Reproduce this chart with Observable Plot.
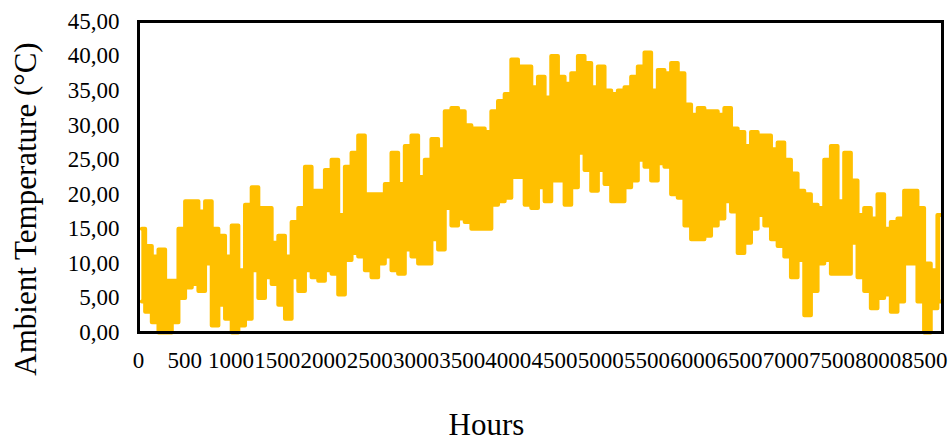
<!DOCTYPE html>
<html><head><meta charset="utf-8">
<script src="https://cdn.jsdelivr.net/npm/d3@7"></script>
<script src="https://cdn.jsdelivr.net/npm/@observablehq/plot@0.6"></script>
<style>body{margin:0;background:#fff;} svg{font-family:"Liberation Serif","Times New Roman",serif;}</style>
</head><body><div id="chart"></div>
<script>
// Ambient temperature, hourly year read as 72-hour bins: max and min of each bin (°C)
const binHours = 72;
const tempMax = [15,12.5,11,12,7.5,7.5,15,19,19,17.5,19,15,14,11,15.5,9,18.5,21,18,18,13,14,11,16,18,
  24,20.5,20.5,23.5,25,17,24,26,28.5,20,20,20,21.5,26,21.5,27,28.5,22.5,25,28,26.5,32,32.5,32,
  30,29.5,29.5,29,32,33.5,34.5,39.5,38.5,38.5,35.5,37,34,40,37,36,37.5,40,39,35.5,38.5,35,34.5,35,
  35.5,37,38.5,40.5,35,38,37.5,39,37.5,33,31.5,32.5,32,32,31.5,32.5,29.5,29,27,29,28.5,28.5,26.5,27.5,
  25,23,20.5,20,18.5,18,25,27,19,26,22,17,18,16.5,20,15,16,16.5,20.5,20.5,18,10,9,17];
const tempMin = [4.5,3,1.5,0,0,1.5,5,6.5,7,6,10,1,4,2,0,1,2,9,5,8,7,4,2,8,6,
  9,8,7.5,9,8.5,5.5,10.5,11.5,11,9,8,10,11,9,8.5,12,11,10,10,13.5,12,18,15.5,16.5,
  16,15,15,15,18.5,19,19.5,22.5,22.5,18.5,18,21,19,22,22,18.5,21,26,23.5,20.5,23.5,21.5,19,19,
  21,22,25,24,22,24.5,24,20,19.5,15.5,13.5,13.5,14,15.5,16.5,19,17.5,11.5,13,15,17,15.5,13.5,12.5,
  11,8,10.5,2.5,6,10,10.5,8.5,8.5,8.5,13,8,6,3.5,5,5.5,3,4.5,10,10,4.5,0,3.5,4.5];
const xTicks = [0,500,1000,1500,2000,2500,3000,3500,4000,4500,5000,5500,6000,6500,7000,7500,8000,8500];
const yTicks = [0,5,10,15,20,25,30,35,40,45];
const xTitle = "Hours";
const yTitle = "Ambient Temperature (°C)";

const data = tempMax.map((v, i) => ({hour: i * binHours + binHours / 2, max: v, min: tempMin[i]}));
const color = "#FFC000";

const chart = Plot.plot({
  width: 948, height: 443,
  marginLeft: 138, marginRight: 6, marginTop: 21, marginBottom: 111,
  style: {fontFamily: "'Liberation Serif', 'Times New Roman', serif", fontSize: "23px", color: "#000", background: "#fff"},
  x: {domain: [0, 8695], ticks: xTicks, tickSize: 0, tickPadding: 19, tickFormat: d => String(d), label: null},
  y: {domain: [0, 45], ticks: yTicks, tickSize: 0, tickPadding: 19, tickFormat: d => d.toFixed(2).replace(".", ","), label: null},
  marks: [
    Plot.areaY(data, {x: "hour", y1: "min", y2: "max", curve: "step", fill: color}),
    Plot.lineY(data, {x: "hour", y: "max", curve: "step", stroke: color, strokeWidth: 4, strokeLinejoin: "round", strokeLinecap: "round"}),
    Plot.lineY(data, {x: "hour", y: "min", curve: "step", stroke: color, strokeWidth: 4, strokeLinejoin: "round", strokeLinecap: "round"}),
    Plot.frame({stroke: "#000", strokeWidth: 3}),
    Plot.text([xTitle], {frameAnchor: "bottom", text: d => d, dx: -54, dy: 102, lineAnchor: "bottom", fontSize: 31, fill: "#000"}),
    Plot.text([yTitle], {frameAnchor: "left", text: d => d, rotate: -90, dx: -103, dy: 32, lineAnchor: "bottom", textAnchor: "middle", fontSize: 31, fill: "#000"})
  ]
});
document.getElementById("chart").append(chart);
</script>
</body></html>
